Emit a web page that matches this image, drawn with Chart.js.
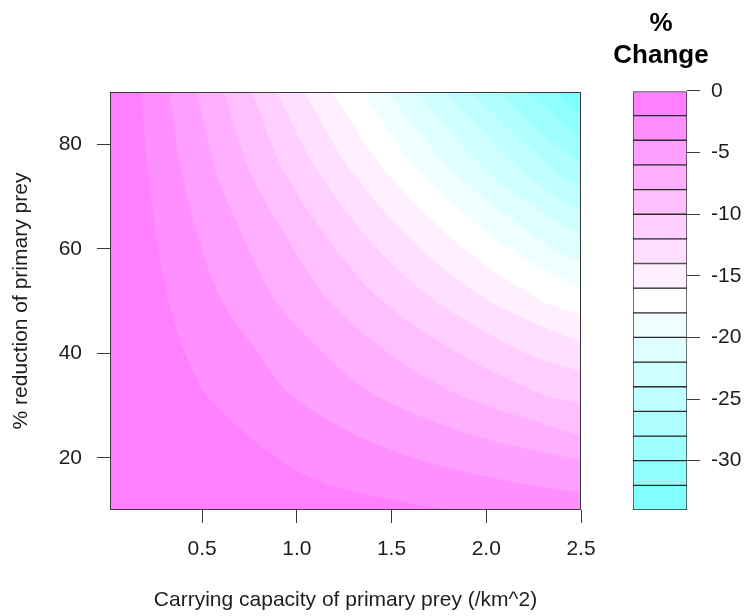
<!DOCTYPE html>
<html><head><meta charset="utf-8">
<script src="https://cdn.jsdelivr.net/npm/chart.js@4.4.1/dist/chart.umd.min.js"></script>
<style>
html,body{margin:0;padding:0;background:#fff;}
#wrap{position:relative;width:748px;height:616px;overflow:hidden;}
#main{position:absolute;left:0;top:0;}
#key{position:absolute;left:560px;top:0;}
</style></head><body>
<div id="wrap"><canvas id="main" width="748" height="616"></canvas><canvas id="key" width="188" height="616"></canvas></div>
<script>
// ---- data ----
const xMin = 0.014, xMax = 2.5;
const yMin = 10, yMax = 90;
const xTicks = [0.5, 1.0, 1.5, 2.0, 2.5];
const yTicks = [20, 40, 60, 80];
const levels = [0,-2,-4,-6,-8,-10,-12,-14,-16,-18,-20,-22,-24,-26,-28,-30,-32,-34];
const keyTicks = [0,-5,-10,-15,-20,-25,-30];
const bandColors = ['#FF80FF','#FF8FFF','#FF9FFF','#FFAFFF','#FFBFFF','#FFCFFF','#FFDFFF','#FFEFFF','#FFFFFF',
                    '#EFFFFF','#DFFFFF','#CFFFFF','#BFFFFF','#AFFFFF','#9FFFFF','#8FFFFF','#80FFFF'];
// contour lines (x = carrying capacity, y = % reduction), level -2 ... -32
const contour02 = [[0.178,90],[0.213,75],[0.269,60],[0.324,50],[0.410,40],[0.522,32],[0.728,24.7],[1.0,17.5],[1.22,14.2],[1.6,11.3],[1.85,10],[2.5,10]];
const contour04 = [[0.326,90],[0.392,75],[0.499,60],[0.606,50],[0.796,40],[0.967,32],[1.293,24.7],[1.6,20.2],[1.9,17.2],[2.2,15.0],[2.5,13.4]];
const contour06 = [[0.476,90],[0.571,75],[0.745,60],[0.887,50],[1.140,40],[1.411,32],[1.891,24.7],[2.2,21.8],[2.5,19.5]];
const contour08 = [[0.617,90],[0.749,75],[0.983,60],[1.169,50],[1.484,40],[1.856,32],[2.456,24.7],[2.5,24.4]];
const contour10 = [[0.763,90],[0.928,75],[1.204,60],[1.451,50],[1.854,40],[2.300,32],[2.5,30.6]];
const contour12 = [[0.895,90],[1.106,75],[1.424,60],[1.732,50],[2.208,40],[2.5,36.5]];
const contour14 = [[1.040,90],[1.285,75],[1.653,60],[2.014,50],[2.5,42.0]];
const contour16 = [[1.186,90],[1.463,75],[1.882,60],[2.296,50],[2.5,47.4]];
const contour18 = [[1.345,90],[1.642,75],[2.120,60],[2.5,52.6]];
const contour20 = [[1.477,90],[1.821,75],[2.351,60],[2.5,57.6]];
const contour22 = [[1.627,90],[1.999,75],[2.30,67],[2.5,62.5]];
const contour24 = [[1.776,90],[2.178,75],[2.5,67.0]];
const contour26 = [[1.917,90],[2.356,75],[2.5,71.6]];
const contour28 = [[2.067,90],[2.29,82],[2.5,76.5]];
const contour30 = [[2.217,90],[2.5,81.0]];
const contour32 = [[2.358,90],[2.5,85.6]];

// ---- chart ----
const FONT = 'Liberation Sans, Arial, Helvetica, sans-serif';
const TXT = '#1e1e1e';
const AX = '#3a3a3a';
const contours = [contour02,contour04,contour06,contour08,contour10,contour12,contour14,contour16,
                  contour18,contour20,contour22,contour24,contour26,contour28,contour30,contour32];

const datasets = [];
for (let k = contours.length - 1; k >= 0; k--) {
  datasets.push({
    data: contours[k].map(p => ({x: p[0], y: p[1]})),
    fill: 'end', backgroundColor: bandColors[k + 1],
    borderColor: 'rgba(0,0,0,0)', borderWidth: 0, pointRadius: 0, tension: 0.3
  });
}
datasets.push({
  data: [{x: xMin, y: yMin}, {x: xMax, y: yMin}],
  fill: 'end', backgroundColor: bandColors[0],
  borderColor: 'rgba(0,0,0,0)', borderWidth: 0, pointRadius: 0
});

const boxPlugin = {
  id: 'box',
  afterDraw(c) {
    const a = c.chartArea, ctx = c.ctx;
    ctx.save();
    ctx.strokeStyle = AX; ctx.lineWidth = 1;
    ctx.strokeRect(Math.round(a.left) + 0.5, Math.round(a.top) + 0.5,
                   Math.round(a.right) - Math.round(a.left) - 1, Math.round(a.bottom) - Math.round(a.top) - 1);
    ctx.restore();
  }
};

new Chart(document.getElementById('main'), {
  type: 'line',
  data: {datasets},
  plugins: [boxPlugin],
  options: {
    responsive: false, animation: false, devicePixelRatio: 1,
    layout: {padding: {left: 0, top: 92, right: 167, bottom: 0}},
    plugins: {legend: {display: false}, tooltip: {enabled: false}},
    scales: {
      x: {
        type: 'linear', min: xMin, max: xMax, position: 'bottom',
        afterFit(s) { s.height = 106; },
        afterBuildTicks(s) { s.ticks = xTicks.map(v => ({value: v})); },
        ticks: {callback: v => v.toFixed(1), color: TXT, font: {family: FONT, size: 21}, padding: 14, maxRotation: 0, autoSkip: false},
        grid: {drawOnChartArea: false, drawTicks: true, tickLength: 13, color: AX, tickColor: AX},
        border: {display: false},
        title: {display: true, text: 'Carrying capacity of primary prey (/km^2)', color: TXT,
                font: {family: FONT, size: 21}, padding: {top: 0, bottom: 3}}
      },
      y: {
        type: 'linear', min: yMin, max: yMax, position: 'left',
        afterFit(s) { s.width = 110; },
        afterBuildTicks(s) { s.ticks = yTicks.map(v => ({value: v})); },
        ticks: {color: TXT, font: {family: FONT, size: 21}, padding: 15, autoSkip: false},
        grid: {drawOnChartArea: false, drawTicks: true, tickLength: 13, color: AX, tickColor: AX},
        border: {display: false},
        title: {display: true, text: '% reduction of primary prey', color: TXT,
                font: {family: FONT, size: 21}, padding: {top: 9, bottom: 0}}
      }
    }
  }
});

// ---- colour key ----
const keyData = [];
for (let i = 0; i < bandColors.length; i++) {
  keyData.push({
    data: [[levels[i + 1], levels[i]]], yAxisID: 'y', xAxisID: 'x',
    backgroundColor: bandColors[i], borderColor: '#2a2a2a', borderWidth: 1, borderSkipped: false,
    grouped: false, barPercentage: 1, categoryPercentage: 1
  });
}
new Chart(document.getElementById('key'), {
  type: 'bar',
  data: {labels: ['key'], datasets: keyData},
  options: {
    responsive: false, animation: false, devicePixelRatio: 1,
    layout: {padding: {left: 14, top: 8, right: 0, bottom: 106}},
    plugins: {
      legend: {display: false}, tooltip: {enabled: false},
      title: {display: true, text: ['%', 'Change'], color: '#000',
              font: {family: FONT, size: 26, weight: 'bold', lineHeight: 1.23}, padding: {top: 0, bottom: 19}}
    },
    scales: {
      x: {display: false},
      y: {
        position: 'right', min: levels[levels.length - 1], max: levels[0],
        afterFit(s) { s.width = 61; },
        afterBuildTicks(s) { s.ticks = keyTicks.map(v => ({value: v})); },
        ticks: {color: TXT, font: {family: FONT, size: 21}, padding: 11},
        grid: {drawOnChartArea: false, drawTicks: true, tickLength: 13, color: AX, tickColor: AX},
        border: {display: false}
      },
      yPad: {
        position: 'left', display: true,
        afterFit(s) { s.width = 59; },
        ticks: {display: false}, grid: {display: false}, border: {display: false}
      }
    }
  }
});
</script>
</body></html>
